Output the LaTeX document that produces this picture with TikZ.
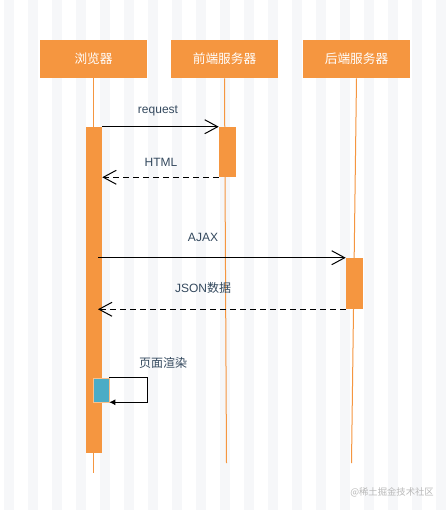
\documentclass[tikz,border=0pt]{standalone}
\usepackage{fontspec}
\setmainfont{Liberation Sans}
\newfontfamily\cjk{Noto Sans CJK SC}
\usetikzlibrary{arrows.meta}

\definecolor{lifeorange}{RGB}{245,150,64}
\definecolor{selfblue}{RGB}{75,172,198}
\definecolor{labelslate}{RGB}{52,73,94}
\definecolor{bgstripe}{RGB}{246,247,249}
\definecolor{markgray}{RGB}{185,185,185}

\begin{document}
\begin{tikzpicture}[x=0.75pt, y=-0.75pt,
    actor/.style={fill=lifeorange, text=white, inner sep=0pt,
      minimum width=80.25pt, minimum height=28.5pt,
      font=\cjk\fontsize{9.5}{11}\selectfont},
    lifeline/.style={draw=lifeorange, line width=0.75pt},
    actbar/.style={fill=lifeorange, inner sep=0pt, minimum width=12pt},
    msg/.style={line width=0.75pt, -{Straight Barb[length=9.75pt, width=10.5pt]}},
    reply/.style={msg, dashed, dash pattern=on 4.5pt off 3pt},
    msglabel/.style={text=labelslate, font=\fontsize{9}{11}\selectfont}]

  % background
  \useasboundingbox (0,0) rectangle (447,510);
  \fill[white] (0,0) rectangle (447,510);
  \foreach \i in {0,...,18}
    \fill[bgstripe] (\i*24+4,0) rectangle ++(10,510);

  % actors
  \node[actor] (browser) at (93.5,59) {浏览器};
  \node[actor] (front) at (224.5,59) {前端服务器};
  \node[actor] (back) at (356.5,59) {后端服务器};

  % lifelines
  \draw[lifeline] (browser.south) -- (93.5,473);
  \draw[lifeline] (front.south) -- (226.5,463);
  \draw[lifeline] (back.south) -- (351.5,463);

  % activation bars
  \node[actbar, minimum height=244.5pt] (barB) at (94,290) {};
  \node[actbar, minimum width=12.75pt, minimum height=37.5pt] (barF) at (227.5,152) {};
  \node[actbar, minimum width=12.75pt, minimum height=38.25pt] (barK) at (354.5,283.5) {};

  % messages
  \draw[msg] (barB.north east) -- (barF.north west);
  \draw[reply] (barF.south west) -- (barF.south west -| barB.east);
  \coordinate (ajaxstart) at ([xshift=3pt]barK.north west -| barB.center);
  \draw[msg] (ajaxstart) -- (barK.north west);
  \coordinate (jsonend) at ([xshift=3pt]barK.south west -| barB.center);
  \draw[reply] (barK.south west) -- (jsonend);

  \node[msglabel] (reqlabel) at (158,111) {request};
  \node[msglabel] (htmllabel) at (161,162) {HTML};
  \node[msglabel] (ajaxlabel) at (203,237) {AJAX};
  \node[msglabel] (jsonlabel) at (203,288) {JSON{\cjk 数据}};

  % self call
  \node[fill=selfblue, draw=lifeorange!60, line width=0.4pt, inner sep=0pt,
        minimum width=12pt, minimum height=18pt] (render) at (101,390) {};
  \draw[line width=0.75pt, -{Latex[length=4.5pt, width=4.5pt]}]
    (render.north east) -- ++(38,0) |- (render.south east);
  \node[msglabel, font=\cjk\fontsize{9}{11}\selectfont] (renderlabel) at (163,363) {页面渲染};

  % watermark
  \node[text=markgray, font=\cjk\fontsize{7}{8}\selectfont] (mark) at (392,492) {@稀土掘金技术社区};
\end{tikzpicture}
\end{document}
